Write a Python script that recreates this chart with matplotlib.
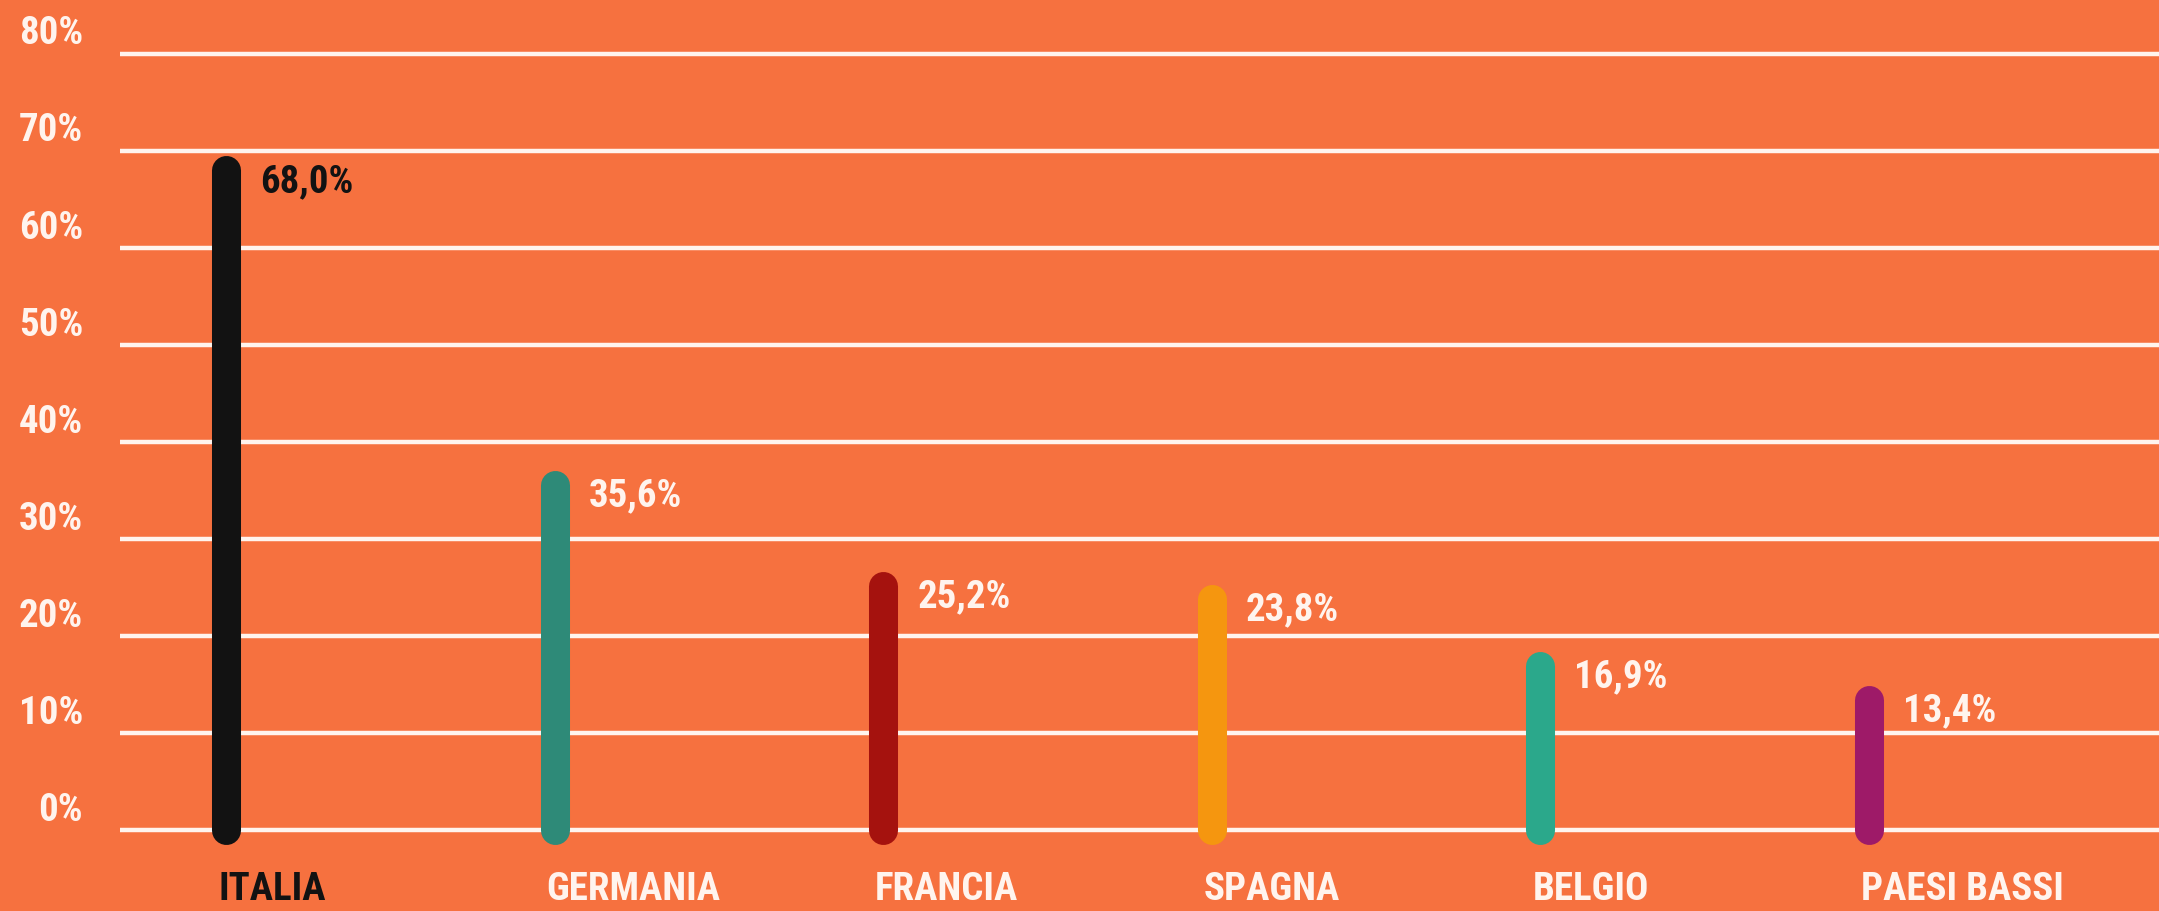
# Bar chart of shares by country, lollipop style with rounded bars
import matplotlib.pyplot as plt
from matplotlib import font_manager

countries = ['ITALIA', 'GERMANIA', 'FRANCIA', 'SPAGNA', 'BELGIO', 'PAESI BASSI']
values = [68.0, 35.6, 25.2, 23.8, 16.9, 13.4]
value_labels = ['68,0%', '35,6%', '25,2%', '23,8%', '16,9%', '13,4%']
bar_colors = ['#121212', '#2e8a78', '#a5120e', '#f5960f', '#2ba88b', '#9e1a68']
text_colors = ['#121212', '#fff4ee', '#fff4ee', '#fff4ee', '#fff4ee', '#fff4ee']
y_ticks = [0, 10, 20, 30, 40, 50, 60, 70, 80]
y_tick_labels = ['0%', '10%', '20%', '30%', '40%', '50%', '60%', '70%', '80%']

bg = '#f6713f'
white = '#fff4ee'

# pick the narrowest font that is installed
installed = set(f.name for f in font_manager.fontManager.ttflist)
font = 'DejaVu Sans'
for name in ['Roboto Condensed', 'Open Sans Condensed', 'Liberation Sans Narrow', 'DejaVu Sans Condensed']:
    if name in installed:
        font = name
        break
plt.rcParams['font.family'] = [font, 'DejaVu Sans']

fig = plt.figure(figsize=(21.59, 9.12), dpi=100, facecolor=bg)
ax = fig.add_axes([0, 0, 1, 1])
ax.set_facecolor(bg)

x = list(range(len(countries)))
ax.set_xlim(-0.688, 5.883)
ax.set_ylim(-8.35, 85.67)

# white grid lines
ax.hlines(y_ticks, -0.323, 5.883, colors=white, linewidth=3.2, zorder=1)

# y labels sit just above each line
for t, lab in zip(y_ticks, y_tick_labels):
    ax.annotate(lab, (0.0385, t), xycoords=ax.get_yaxis_transform(),
                xytext=(0, 21), textcoords='offset pixels',
                ha='right', va='center', fontsize=28, color=white,
                fontweight='bold')

# rounded bars
for xi, v, c in zip(x, values, bar_colors):
    ax.plot([xi, xi], [0, v], color=c, linewidth=20.9,
            solid_capstyle='round', zorder=3)

# value labels and country names
for xi, v, lab, name, tc in zip(x, values, value_labels, countries, text_colors):
    ax.annotate(lab, (xi, v), xytext=(34, -10), textcoords='offset pixels',
                ha='left', va='center', fontsize=28, color=tc, fontweight='bold')
    ax.annotate(name, (xi, 0), xytext=(-8, -58), textcoords='offset pixels',
                ha='left', va='center', fontsize=28, color=tc, fontweight='bold')

ax.axis('off')
plt.savefig('out.png', dpi=100, facecolor=bg)
